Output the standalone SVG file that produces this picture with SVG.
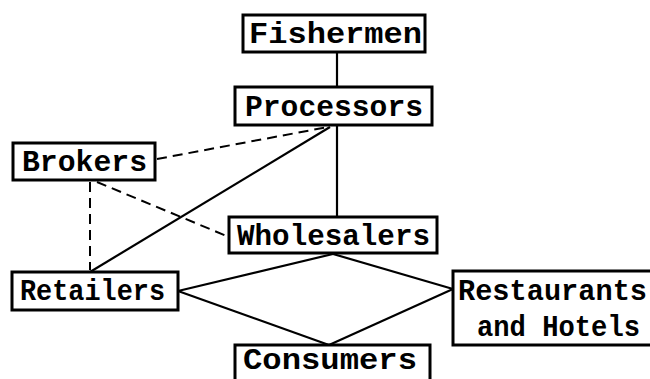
<svg xmlns="http://www.w3.org/2000/svg" width="650" height="379" viewBox="0 0 650 379">
<style>
.box{fill:#fff;stroke:#000;stroke-width:3}
.t{font-family:"Liberation Mono","Courier New",monospace;font-weight:bold;font-size:29px;fill:#000}
.c{stroke:#000;stroke-width:2.2;fill:none}
.d{stroke:#000;stroke-width:2;fill:none;stroke-dasharray:10 6}
</style>
<rect width="650" height="379" fill="#fff"/>
<g id="connectors">
<line class="c" x1="337" y1="52" x2="337" y2="87"/>
<line class="c" x1="337" y1="125" x2="337" y2="217"/>
<line class="c" x1="330" y1="127" x2="90" y2="272"/>
<line class="d" x1="157" y1="159" x2="328" y2="127"/>
<line class="d" x1="90" y1="182" x2="90" y2="270"/>
<line class="d" x1="97" y1="182" x2="229" y2="237"/>
<line class="c" x1="178" y1="291" x2="333" y2="254"/>
<line class="c" x1="178" y1="291" x2="329" y2="345"/>
<line class="c" x1="333" y1="254" x2="453" y2="289"/>
<line class="c" x1="329" y1="345" x2="453" y2="289"/>
</g>
<g id="fishermen"><rect class="box" x="243" y="15" width="182" height="37"/><text class="t" x="249" y="43" textLength="173" lengthAdjust="spacingAndGlyphs">Fishermen</text></g>
<g id="processors"><rect class="box" x="235" y="87" width="197" height="38"/><text class="t" x="245" y="116" textLength="178" lengthAdjust="spacingAndGlyphs">Processors</text></g>
<g id="brokers"><rect class="box" x="13" y="143" width="142" height="37"/><text class="t" x="22" y="171" textLength="125" lengthAdjust="spacingAndGlyphs">Brokers</text></g>
<g id="wholesalers"><rect class="box" x="229" y="217" width="208" height="36"/><text class="t" x="237" y="245" textLength="193" lengthAdjust="spacingAndGlyphs">Wholesalers</text></g>
<g id="retailers"><rect class="box" x="12" y="272" width="166" height="38"/><text class="t" x="20" y="300" textLength="145" lengthAdjust="spacingAndGlyphs">Retailers</text></g>
<g id="restaurants"><rect class="box" x="453" y="271" width="200" height="74"/><text class="t" x="458" y="300" textLength="189" lengthAdjust="spacingAndGlyphs">Restaurants</text><text class="t" x="477" y="336" textLength="163" lengthAdjust="spacingAndGlyphs">and Hotels</text></g>
<g id="consumers"><rect class="box" x="235" y="345" width="195" height="40"/><text class="t" x="243" y="369" font-size="27" textLength="174" lengthAdjust="spacingAndGlyphs">Consumers</text></g>
</svg>
